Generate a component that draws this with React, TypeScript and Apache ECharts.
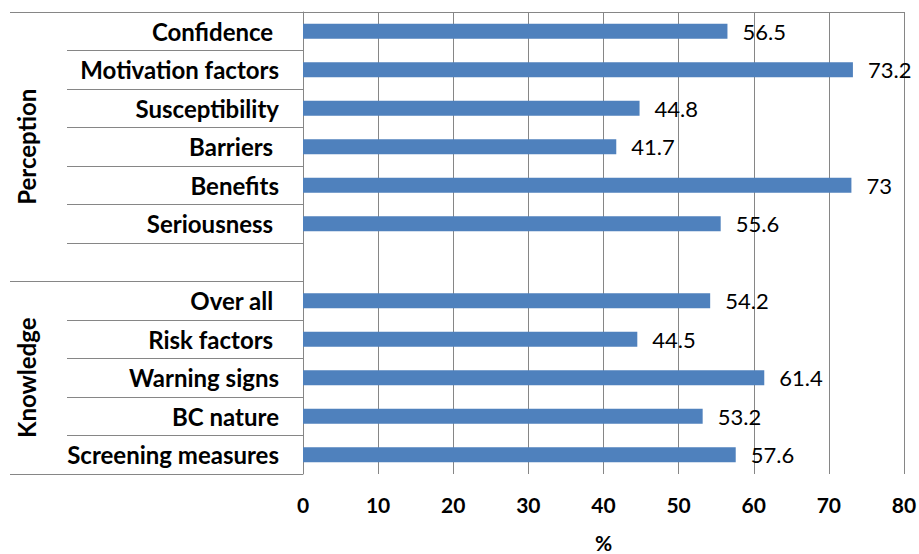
import React, { useEffect, useRef } from "react";
import * as echarts from "echarts";

const categories = [
  "Confidence ",
  "Motivation factors",
  "Susceptibility",
  "Barriers ",
  "Benefits",
  "Seriousness ",
  "",
  "Over all ",
  "Risk factors ",
  "Warning signs",
  "BC nature",
  "Screening measures",
];
const values: (number | string)[] = [56.5, 73.2, 44.8, 41.7, 73, 55.6, "-", 54.2, 44.5, 61.4, 53.2, 57.6];
const groupNames = ["Perception", "Knowledge"];
const groupSizes = [7, 5];
const xMin = 0;
const xMax = 80;
const xInterval = 10;
const xName = "%";

const FONT = "Lato";
const GRAY = "#868686";

export default function App() {
  const ref = useRef<HTMLDivElement>(null);
  useEffect(() => {
    if (!ref.current) return;
    const chart = echarts.init(ref.current, null, { renderer: "svg" });
    const bounds: number[] = [0];
    const centers: number[] = [];
    groupSizes.forEach((s) => {
      const start = bounds[bounds.length - 1];
      centers.push(start + s / 2);
      bounds.push(start + s);
    });
    chart.setOption({
      animation: false,
      grid: {
        left: 303,
        right: 15,
        top: 12,
        bottom: 80,
        containLabel: false,
        outerBoundsMode: "none",
      },
      xAxis: {
        type: "value",
        min: xMin,
        max: xMax,
        interval: xInterval,
        name: xName,
        nameLocation: "middle",
        nameGap: 58,
        nameTextStyle: { fontFamily: FONT, fontWeight: "bold", fontSize: 21, color: "#000", lineHeight: 21 },
        axisLine: { show: true, lineStyle: { color: GRAY, width: 1 } },
        axisTick: { show: true, length: 8, lineStyle: { color: GRAY } },
        axisLabel: {
          margin: 20,
          fontFamily: FONT,
          fontWeight: "bold",
          fontSize: 21,
          color: "#000",
          showMaxLabel: true,
          showMinLabel: true,
        },
        splitLine: { show: true, lineStyle: { color: GRAY, width: 1 } },
      },
      yAxis: [
        {
          type: "category",
          data: categories,
          inverse: true,
          axisLine: { show: true, lineStyle: { color: GRAY, width: 1 } },
          axisTick: { show: true, length: 236, lineStyle: { color: GRAY } },
          axisLabel: { margin: 24, fontFamily: FONT, fontWeight: "bold", fontSize: 24, color: "#000", interval: 0 },
          splitLine: { show: false },
        },
        {
          type: "value",
          position: "left",
          min: 0,
          max: categories.length,
          inverse: true,
          offset: 0,
          axisLine: { show: false },
          axisTick: { show: true, length: 293, customValues: bounds, lineStyle: { color: GRAY } },
          axisLabel: {
            customValues: centers,
            rotate: 90,
            margin: 265,
            fontFamily: FONT,
            fontWeight: "bold",
            fontSize: 24,
            color: "#000",
            formatter: (v: number) => {
              const i = centers.indexOf(v);
              return i >= 0 ? groupNames[i] : "";
            },
          },
          splitLine: { show: false },
        },
      ],
      series: [
        {
          type: "bar",
          data: values,
          yAxisIndex: 0,
          barWidth: 15,
          itemStyle: { color: "#4F81BD" },
          label: {
            show: true,
            position: "right",
            distance: 15,
            fontFamily: FONT,
            fontSize: 22,
            color: "#000",
          },
        },
      ],
    });
    return () => chart.dispose();
  }, []);
  return (
    <div
      ref={ref}
      style={{ position: "absolute", left: 0, top: 0, width: 919, height: 554 }}
    />
  );
}
